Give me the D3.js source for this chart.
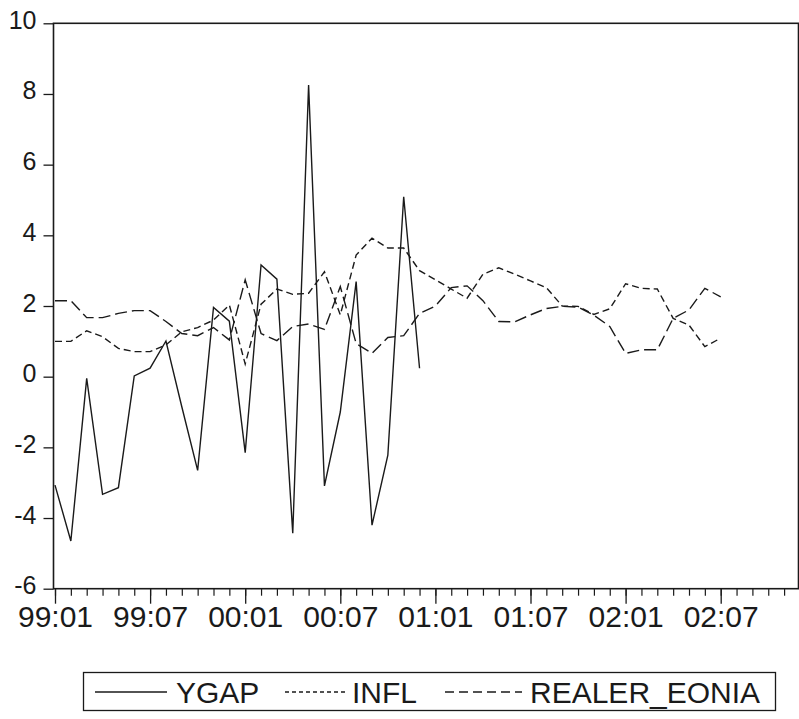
<!DOCTYPE html>
<html>
<head>
<meta charset="utf-8">
<script src="https://cdn.jsdelivr.net/npm/d3@7"></script>
<style>
  html, body { margin: 0; padding: 0; background: #fff; }
  svg { display: block; }
  text { font-family: "Liberation Sans", Arial, sans-serif; fill: #1a1a1a; }
</style>
</head>
<body>
<svg id="chart" width="799" height="719"></svg>
<script>
// ---- data (monthly, 99:01 .. 02:12 axis) ----
const periods = d3.range(48).map(i => {
  const y = (99 + Math.floor(i / 12)) % 100, m = (i % 12) + 1;
  return String(y).padStart(2, "0") + ":" + String(m).padStart(2, "0");
});
const tickLabels = ["99:01", "99:07", "00:01", "00:07", "01:01", "01:07", "02:01", "02:07"];
const yTicks = [-6, -4, -2, 0, 2, 4, 6, 8, 10];

const ygap = [-3.07, -4.65, -0.05, -3.33, -3.14, 0.02, 0.24, 1.01, -0.85, -2.65, 1.96, 1.57,
              -2.15, 3.16, 2.76, -4.43, 8.25, -3.09, -1.00, 2.69, -4.20, -2.22, 5.09, 0.24];
const infl = [1.00, 1.00, 1.30, 1.13, 0.80, 0.71, 0.71, 0.90, 1.27, 1.39, 1.60, 2.03,
              0.36, 2.05, 2.48, 2.33, 2.36, 2.97, 1.75, 3.44, 3.92, 3.64, 3.64, 3.00,
              2.74, 2.48, 2.22, 2.90, 3.08, 2.90, 2.71, 2.52, 2.00, 1.99, 1.76, 1.92,
              2.63, 2.50, 2.48, 1.65, 1.46, 0.85, 1.09];
const realer = [2.15, 2.15, 1.67, 1.67, 1.79, 1.87, 1.87, 1.56, 1.22, 1.16, 1.39, 1.04,
                2.74, 1.22, 1.02, 1.42, 1.49, 1.34, 2.55, 0.94, 0.66, 1.11, 1.16, 1.79,
                2.00, 2.52, 2.57, 2.15, 1.56, 1.55, 1.75, 1.93, 1.99, 1.97, 1.74, 1.42,
                0.66, 0.76, 0.76, 1.65, 1.89, 2.50, 2.26];

const seriesNames = ["YGAP", "INFL", "REALER_EONIA"];

// ---- layout ----
const svg = d3.select("#chart");
const frame = { left: 53.5, right: 798.5, top: 23.3, bottom: 588.7 };

const x = d3.scaleLinear().domain([0, 47]).range([55, 55 + 47 * 15.85]);
const y = d3.scaleLinear().domain([-6, 10]).range([frame.bottom, frame.top]);

// frame
svg.append("rect")
  .attr("x", frame.left).attr("y", frame.top)
  .attr("width", frame.right - frame.left).attr("height", frame.bottom - frame.top)
  .attr("fill", "none").attr("stroke", "#1a1a1a").attr("stroke-width", 1.6);

// y axis
const yAxis = svg.append("g").attr("transform", `translate(${frame.left},0)`)
  .call(d3.axisLeft(y).tickValues(yTicks).tickSize(10).tickPadding(7).tickFormat(d => String(d)));
yAxis.select(".domain").remove();
yAxis.selectAll(".tick line").attr("stroke", "#1a1a1a").attr("stroke-width", 1.3);
yAxis.selectAll(".tick text").attr("font-size", 25).attr("dy", "0.2em").attr("fill", "#1a1a1a");

// x axis minor ticks
const xMinor = svg.append("g").attr("transform", `translate(0,${frame.bottom})`)
  .call(d3.axisBottom(x).tickValues(d3.range(48)).tickSize(7).tickFormat(""));
xMinor.select(".domain").remove();
xMinor.selectAll(".tick line").attr("stroke", "#1a1a1a").attr("stroke-width", 1.2);

// x axis major ticks with labels
const majorIdx = tickLabels.map(l => periods.indexOf(l));
const xMajor = svg.append("g").attr("transform", `translate(0,${frame.bottom})`)
  .call(d3.axisBottom(x).tickValues(majorIdx).tickSize(15).tickPadding(5)
        .tickFormat(i => periods[i]));
xMajor.select(".domain").remove();
xMajor.selectAll(".tick line").attr("stroke", "#1a1a1a").attr("stroke-width", 1.3);
xMajor.selectAll(".tick text").attr("font-size", 30).attr("dy", "0.6em").attr("fill", "#1a1a1a");

// lines
const line = d3.line().x((d, i) => x(i)).y(d => y(d));
const styles = [
  { data: ygap, dash: null },
  { data: infl, dash: "7,4" },
  { data: realer, dash: "12,5" }
];
styles.forEach(s => {
  svg.append("path").datum(s.data)
    .attr("d", line)
    .attr("fill", "none")
    .attr("stroke", "#1a1a1a")
    .attr("stroke-width", 1.4)
    .attr("stroke-linejoin", "miter")
    .attr("stroke-dasharray", s.dash);
});

// legend
const lg = svg.append("g");
lg.append("rect").attr("x", 83.5).attr("y", 672.5).attr("width", 692).attr("height", 38)
  .attr("fill", "none").attr("stroke", "#1a1a1a").attr("stroke-width", 1.3);
const legendItems = [
  { name: seriesNames[0], x1: 95, x2: 167, tx: 176, dash: null },
  { name: seriesNames[1], x1: 285, x2: 345, tx: 352, dash: "4,3" },
  { name: seriesNames[2], x1: 445, x2: 522, tx: 530, dash: "9,5" }
];
legendItems.forEach(it => {
  lg.append("line").attr("x1", it.x1).attr("x2", it.x2).attr("y1", 692).attr("y2", 692)
    .attr("stroke", "#1a1a1a").attr("stroke-width", 1.3).attr("stroke-dasharray", it.dash);
  lg.append("text").attr("x", it.tx).attr("y", 703).attr("font-size", 30).text(it.name);
});
</script>
</body>
</html>
